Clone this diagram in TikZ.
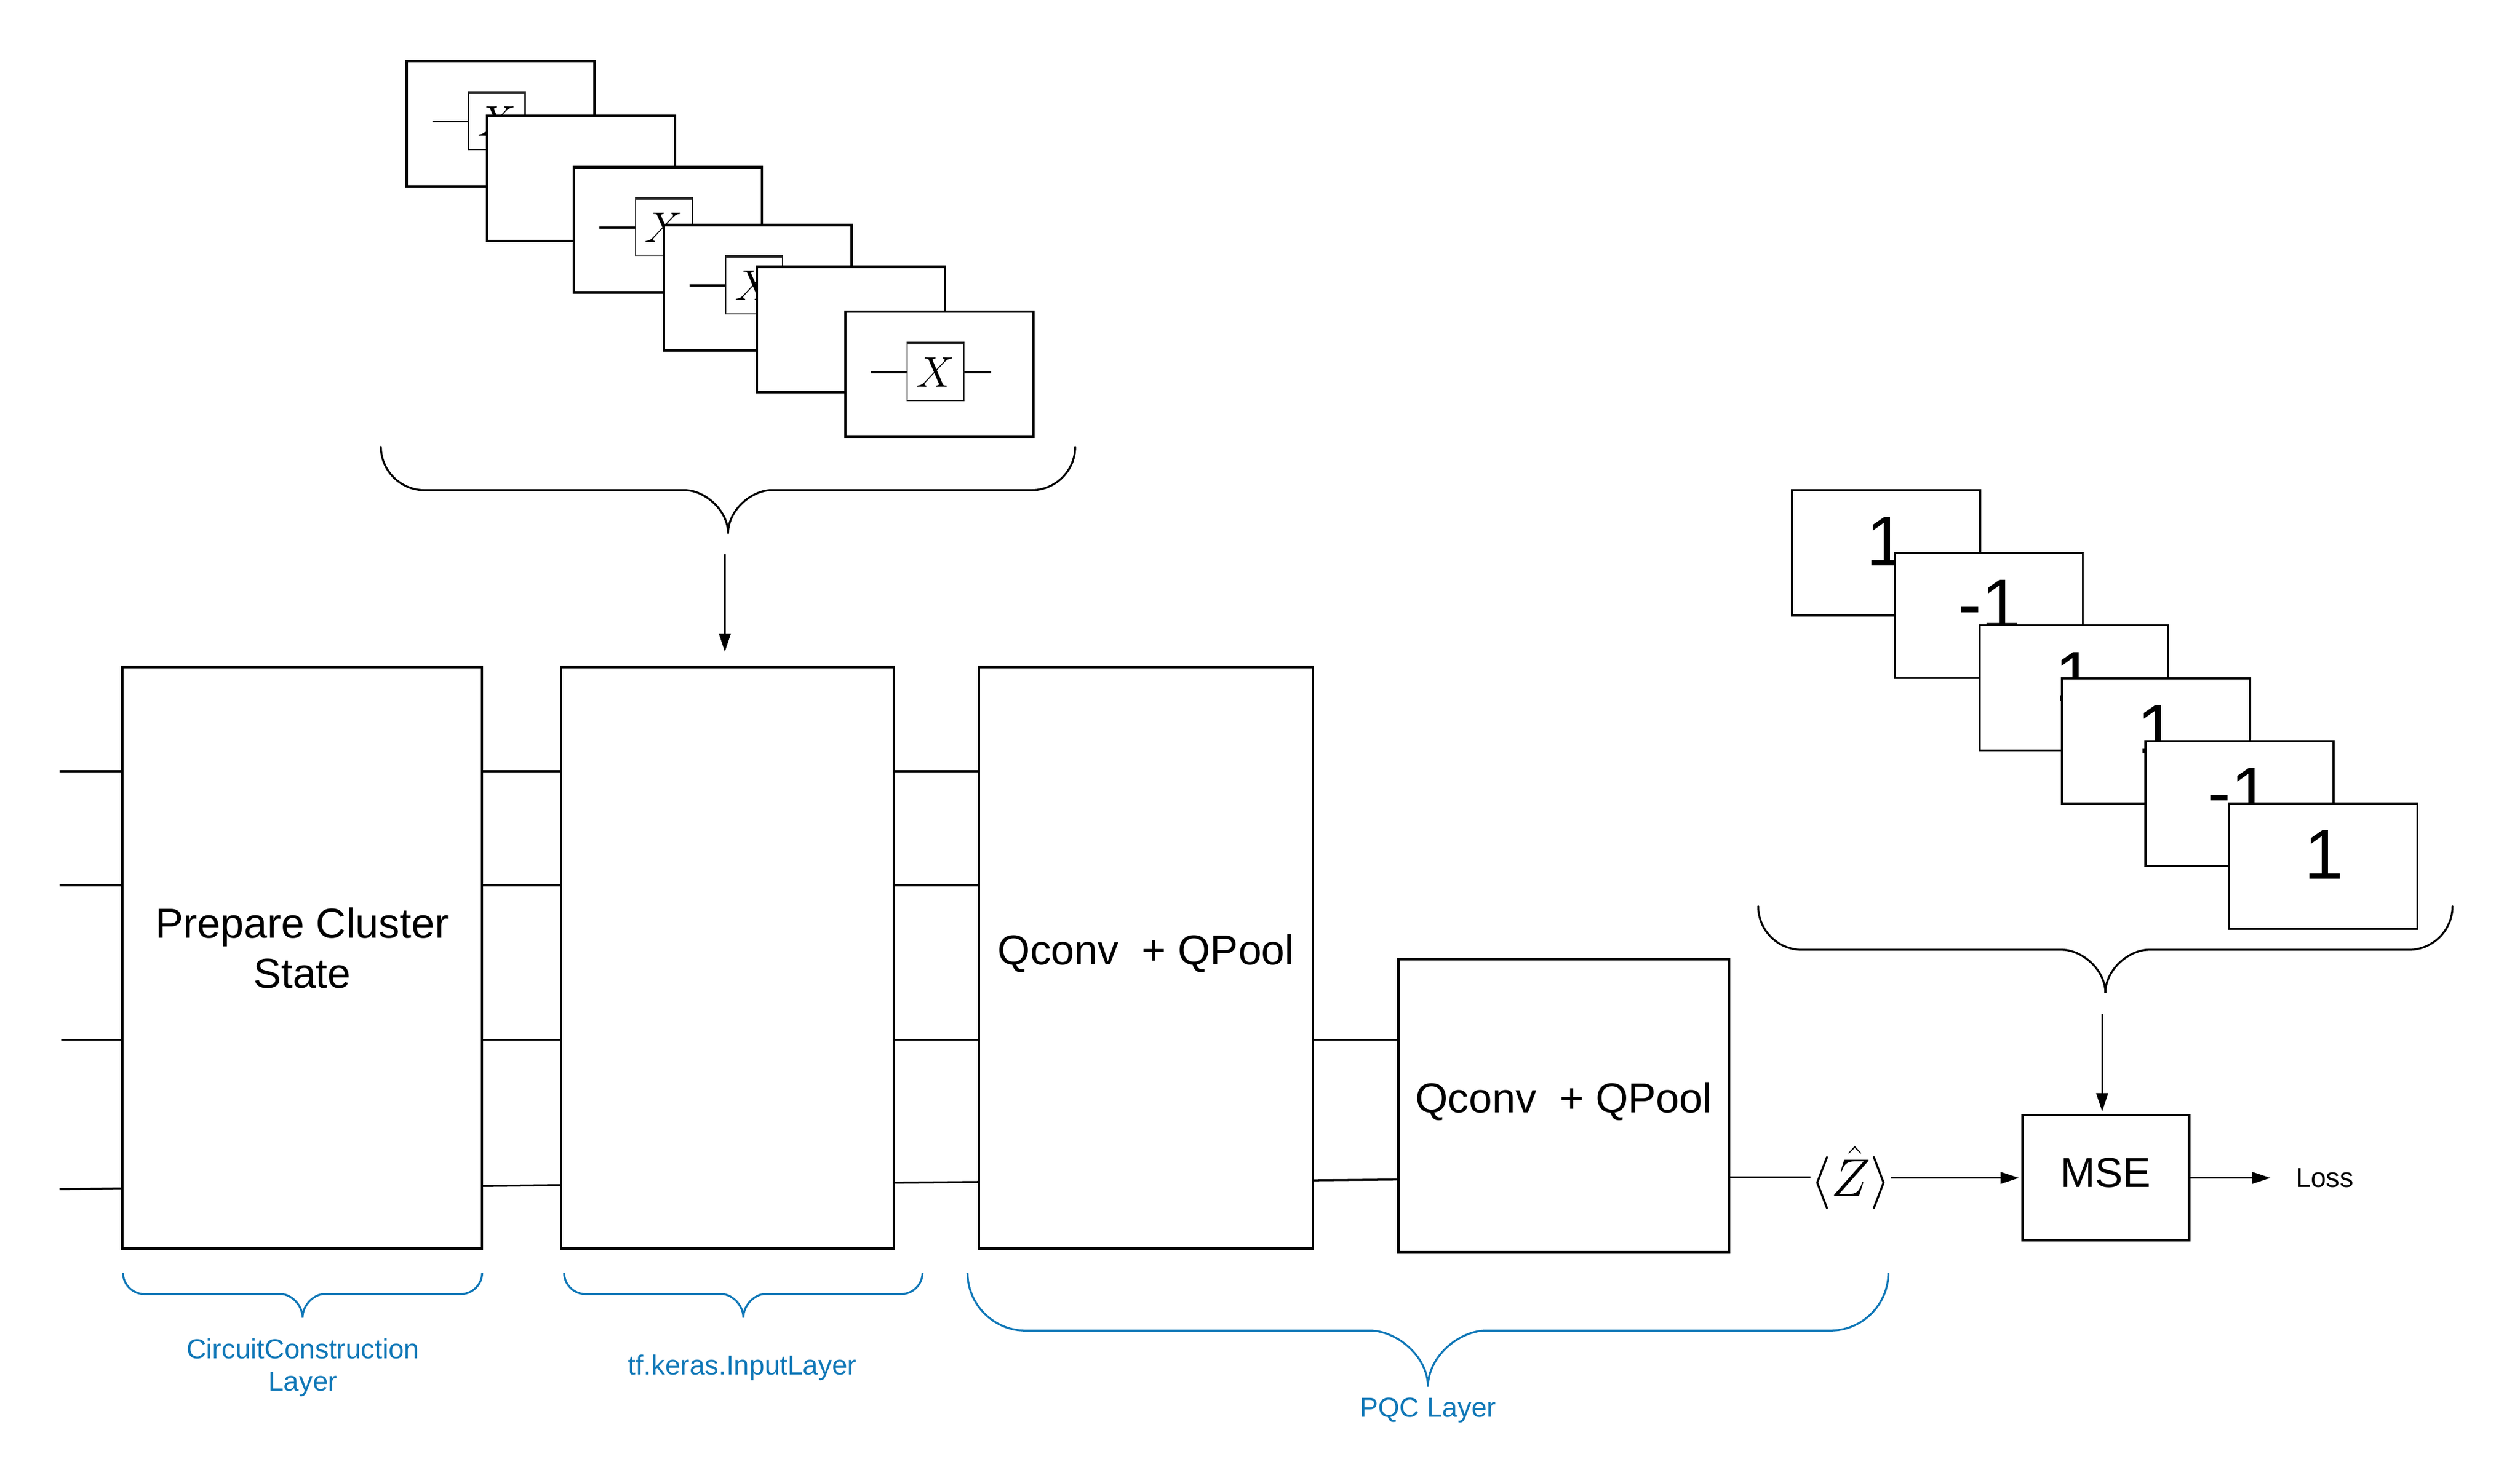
\documentclass[tikz,border=0pt]{standalone}
\usepackage{fix-cm}
\usepackage{amsmath}
\usepackage{fontspec}
\setmainfont{Liberation Sans}
\usetikzlibrary{arrows.meta}

\definecolor{layerblue}{HTML}{0F77B7}
\tikzset{
    box/.style={draw=black, line width=1.2pt, fill=white, inner sep=0pt, align=center, font=\fontsize{21.4}{25.5}\selectfont},
    boxtext/.style={inner sep=0pt, align=center, font=\fontsize{21.4}{25.5}\selectfont},
    card/.style={box, minimum width=3.38cm, minimum height=2.25cm},
    numcard/.style={card, line width=1pt},
    cardnum/.style={font=\fontsize{36}{40}\selectfont, inner sep=0pt},
    gate/.style={draw=black!85, line width=0.6pt, fill=white, minimum width=1.02cm, minimum height=1.02cm, inner sep=0pt, font=\fontsize{22}{26}\selectfont},
    wire/.style={line width=1pt},
    arr/.style={line width=0.9pt, shorten >=0.4mm, -{Triangle[length=3.3mm,width=2.1mm]}},
    brace/.style={line width=1pt, line cap=round},
    bluebrace/.style={line width=1pt, draw=layerblue},
    layerlabel/.style={text=layerblue, align=center, inner sep=0pt, font=\fontsize{14.1}{16.4}\selectfont}
}

% #1 card name
\newcommand{\xgate}[1]{
    \node[gate] (#1g) at ([xshift=-0.07cm,yshift=0.04cm]#1.center) {$X$};
    \coordinate (#1l) at ([xshift=-1.16cm]#1g.center);
    \coordinate (#1r) at ([xshift=1cm]#1g.center);
    \draw[wire] (#1l) -- (#1g.west);
    \draw[wire] (#1g.east) -- (#1r);
    \draw[line width=1.4pt, black!85] (#1g.north west) -- (#1g.north east);
}
% left, right, top, flat part, tip
\newcommand{\bracedraw}[6]{
    \pgfmathsetmacro{\bmid}{(#2+#3)/2}
    \draw[#1] (#2,#4) .. controls (#2,#4+0.55*#5-0.55*#4) and (#2+0.45*#5-0.45*#4,#5) .. (#2+#5-#4,#5)
        -- (\bmid-#5+#4,#5) .. controls (\bmid-0.55*#5+0.55*#4,#5) and (\bmid,#5+0.45*#6-0.45*#5) .. (\bmid,#6)
        .. controls (\bmid,#5+0.45*#6-0.45*#5) and (\bmid+0.55*#5-0.55*#4,#5) .. (\bmid+#5-#4,#5)
        -- (#3-#5+#4,#5) .. controls (#3-0.45*#5+0.45*#4,#5) and (#3,#4+0.55*#5-0.55*#4) .. (#3,#4);
}

\begin{document}
\begin{tikzpicture}[x=0.028878cm, y=-0.028878cm]
    \useasboundingbox (0,0) rectangle (1568,919.74);

    % stack of circuits
    \node[card] (c1) at (311.5,77) {};
    \xgate{c1}
    \node[card] (c2) at (361.5,111) {};
    \node[card] (c3) at (415.5,143) {};
    \xgate{c3}
    \node[card] (c4) at (471.5,179) {};
    \xgate{c4}
    \node[card] (c5) at (529.5,205) {};
    \node[card] (c6) at (584.5,233) {};
    \xgate{c6}

    \bracedraw{brace}{237}{669}{278}{305}{332}
    \coordinate (inputfrom) at (451,345);
    \coordinate (inputto) at (451,407);
    \draw[arr] (inputfrom) -- (inputto);

    % the layers
    \node[box, minimum width=6.47cm, minimum height=10.45cm] (cluster) at (188,596) {};
    \node[boxtext] (clustertext) at (188,590) {Prepare Cluster\\State};
    \node[box, minimum width=5.98cm, minimum height=10.45cm] (input) at (452.5,596) {};
    \node[box, minimum width=6cm, minimum height=10.45cm, text depth=0.29cm] (qconvA) at (713,596) {Qconv~~+ QPool};
    \node[box, minimum width=5.95cm, minimum height=5.26cm, text depth=0.29cm] (qconvB) at (973,688) {Qconv~~+ QPool};

    \coordinate (q1) at (37,480);
    \coordinate (q2) at (37,551);
    \coordinate (q3) at (38,647);
    \coordinate (q4) at (37,740);
    \draw[wire] (q1) -- (cluster.west |- q1);
    \draw[wire] (q2) -- (cluster.west |- q2);
    \draw[wire] (q3) -- (cluster.west |- q3);
    \draw[wire] (q4) -- (76,739.5);

    \draw[wire] (cluster.east |- q1) -- (input.west |- q1);
    \draw[wire] (cluster.east |- q2) -- (input.west |- q2);
    \draw[wire] (cluster.east |- q3) -- (input.west |- q3);
    \draw[wire] (300,738) -- (349,737.5);

    \draw[wire] (input.east |- q1) -- (qconvA.west |- q1);
    \draw[wire] (input.east |- q2) -- (qconvA.west |- q2);
    \draw[wire] (input.east |- q3) -- (qconvA.west |- q3);
    \draw[wire] (556,736) -- (609,735.5);

    \draw[wire] (qconvA.east |- q3) -- (qconvB.west |- q3);
    \draw[wire] (817,734.5) -- (870,734);

    % output side
    \node[inner sep=0pt, minimum width=1.34cm, font=\fontsize{27}{30}\selectfont] (zexp) at (1151.5,733) {$\langle\hat{Z}\rangle$};
    \node[box, minimum width=3cm, minimum height=2.25cm, text depth=0.2cm] (mse) at (1310.2,733) {MSE};
    \node[inner sep=0pt, inner xsep=0.41cm, font=\fontsize{14}{16}\selectfont] (loss) at (1446.5,733) {Loss};
    \coordinate (zwire) at (1076,732.5);
    \draw[wire] (zwire) -- (zexp.west |- zwire);
    \draw[arr] (zexp) -- (mse);
    \draw[arr] (mse) -- (loss);

    % stack of labels
    \node[numcard] (t1) at (1173.5,344) {};
    \node[cardnum] (n1) at (1173.5,337) {1};
    \node[numcard] (t2) at (1237.5,383) {};
    \node[cardnum] (n2) at (1238,376) {-1};
    \node[numcard] (t3) at (1290.5,428) {};
    \node[cardnum] (n3) at (1291,421) {1};
    \node[numcard] (t4) at (1341.5,461) {};
    \node[cardnum] (n4) at (1342,454) {1};
    \node[numcard] (t5) at (1393.5,500) {};
    \node[cardnum] (n5) at (1393,493) {-1};
    \node[numcard] (t6) at (1445.5,539) {};
    \node[cardnum] (n6) at (1446,532) {1};

    \bracedraw{brace}{1094}{1526}{564}{591}{618}
    \coordinate (labelfrom) at (1308,631);
    \coordinate (labelto) at (1308,693);
    \draw[arr] (labelfrom) -- (labelto);

    % names of the layers
    \bracedraw{bluebrace}{76.5}{300}{792}{805.3}{820}
    \bracedraw{bluebrace}{351}{574}{792}{805.3}{820}
    \bracedraw{bluebrace}{602}{1175}{792}{828}{863}
    \node[layerlabel] (clusterlabel) at (188.5,851) {CircuitConstruction\\Layer};
    \node[layerlabel] (inputlabel) at (462,851) {tf.keras.InputLayer};
    \node[layerlabel] (pqclabel) at (888.5,877.5) {PQC Layer};
\end{tikzpicture}
\end{document}
